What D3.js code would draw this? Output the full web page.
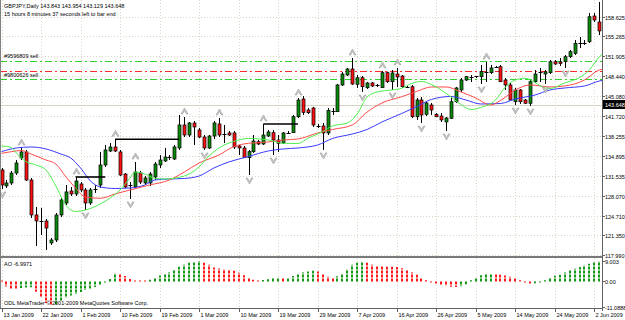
<!DOCTYPE html>
<html>
<head>
<meta charset="utf-8">
<script src="https://cdn.jsdelivr.net/npm/d3@7"></script>
<style>
  html, body { margin: 0; padding: 0; background: #fff; }
  svg { display: block; font-family: "Liberation Sans", Arial, sans-serif; }
</style>
</head>
<body>
<svg id="chart"></svg>
<script>
const titleLine = "GBPJPY,Daily  143.843 143.954 143.129 143.648";
const timerLine = "15 hours 8 minutes 37 seconds left to bar end";
const aoTitle = "AO -6.9971";
const copyright = "ODL MetaTrader \u00a9 2001-2009 MetaQuotes Software Corp.";

// daily bars, 13 Jan 2009 .. 3 Jun 2009 : [open, high, low, close]
const candles = [
  [132.49,132.83,129.25,129.93],[129.76,130.78,129.42,130.27],[130.27,132.32,129.93,131.97],[131.97,134.19,131.63,133.68],
  [134.53,136.24,134.19,135.56],[135.56,135.90,130.61,130.78],[130.78,131.12,124.30,124.82],[124.82,126.18,119.53,123.79],
  [123.79,126.01,121.40,123.62],[123.79,124.13,118.85,122.59],[120.04,120.89,119.70,120.55],[120.55,125.16,120.21,124.82],
  [124.82,127.71,124.47,127.37],[126.86,129.93,126.52,128.74],[128.91,129.59,128.05,128.40],[128.40,131.29,128.05,130.61],
  [130.10,130.44,128.74,129.08],[129.08,129.42,125.67,126.86],[126.86,129.42,126.52,129.08],[129.08,129.93,128.57,129.25],
  [129.93,135.56,129.42,133.34],[133.34,136.75,133.00,135.90],[135.72,137.09,135.56,136.41],[136.41,137.72,135.56,135.72],
  [135.56,135.90,131.46,131.63],[131.80,131.97,129.42,129.59],[129.76,130.44,127.54,129.85],[129.59,133.85,129.42,132.14],
  [131.97,132.32,130.10,130.44],[130.27,131.46,129.93,131.12],[130.27,132.14,129.76,131.80],[131.29,133.85,130.78,133.51],
  [133.34,135.04,132.83,134.19],[134.02,136.24,133.85,134.70],[134.62,135.04,134.19,134.45],[134.36,136.75,134.19,136.41],
  [136.24,141.86,135.90,140.16],[140.16,141.52,138.11,138.45],[138.45,140.67,138.11,140.50],[140.50,140.84,136.75,139.82],
  [139.31,139.65,137.94,138.11],[138.11,138.45,135.90,136.24],[136.24,138.45,136.07,138.28],[138.28,140.84,137.77,140.50],
  [140.33,141.35,138.11,138.45],[138.62,140.16,137.09,138.54],[138.80,139.14,138.28,138.45],[138.80,139.14,136.07,136.41],
  [136.58,136.75,135.04,136.24],[136.24,136.58,134.53,134.58],[134.58,135.90,131.63,135.61],[135.61,138.45,135.39,137.43],
  [137.31,137.60,136.75,136.92],[136.92,140.33,136.75,138.45],[138.28,139.31,138.11,138.97],[138.85,139.31,135.04,137.60],
  [137.60,138.45,135.56,137.04],[137.09,138.97,136.92,138.80],[138.80,139.14,138.62,138.85],[138.85,141.86,138.80,141.57],
  [141.57,144.76,141.35,144.42],[144.59,145.10,141.86,142.32],[142.72,143.06,142.03,142.26],[143.06,143.23,139.82,140.16],
  [139.99,140.33,139.65,139.90],[139.99,140.50,135.90,138.80],[138.80,143.06,138.45,142.63],[142.55,143.06,141.86,142.50],
  [142.43,147.15,142.37,146.98],[146.98,149.20,146.81,148.85],[148.68,149.88,148.51,149.71],[149.71,151.58,146.98,147.15],
  [147.10,148.68,146.47,148.22],[148.22,148.51,145.79,146.69],[146.52,147.49,146.30,147.32],[147.32,147.49,146.64,146.81],
  [146.90,147.15,146.64,146.86],[146.52,149.37,146.47,149.08],[149.08,149.25,147.32,147.54],[147.54,149.54,146.13,149.03],
  [148.85,149.88,146.64,148.34],[148.51,148.68,146.47,146.69],[146.72,146.98,146.47,146.64],[146.69,146.98,141.35,141.57],
  [141.57,144.76,141.02,144.42],[144.42,144.93,140.50,141.86],[141.98,144.25,141.69,143.91],[143.57,143.91,141.86,142.72],
  [141.98,142.20,141.52,141.57],[141.69,142.20,140.67,141.02],[140.67,141.52,139.14,141.35],[141.30,144.93,141.18,144.13],
  [144.13,146.64,143.91,146.47],[146.13,148.17,145.79,147.83],[147.83,148.51,147.66,148.39],[148.34,148.68,147.49,148.39],
  [148.43,148.51,148.17,148.34],[148.39,150.39,147.15,149.25],[149.25,150.90,147.49,149.08],[149.08,150.39,148.85,149.88],
  [150.05,150.22,149.88,150.10],[150.10,150.39,147.49,147.54],[147.83,148.17,146.13,146.98],[146.98,147.32,144.25,144.42],
  [144.13,146.47,143.57,146.13],[146.13,146.30,143.74,144.13],[144.42,144.59,143.74,143.86],[143.86,147.83,143.40,147.54],
  [147.54,149.54,147.32,148.85],[149.03,149.88,147.49,149.20],[148.85,149.54,147.15,149.20],[149.08,151.24,148.85,150.95],
  [150.95,151.24,150.39,150.56],[150.90,151.58,150.22,150.64],[150.95,152.09,149.88,151.80],[151.80,152.95,151.58,152.66],
  [152.38,154.65,152.09,154.09],[154.19,155.16,153.29,154.22],[154.19,154.65,153.80,154.22],[154.36,159.25,154.14,158.62],
  [158.74,159.25,157.72,158.06],[157.72,161.13,155.50,156.19]
];

// Awesome Oscillator, one value per bar
const aoValues = [
  0.22,-2.2,-3.08,-3.3,-2.86,-2.64,-2.55,-4.5,-7.0,-9.5,
  -10.5,-10.0,-8.6,-7.2,-6.2,-5.5,-4.6,-3.74,-3.08,-2.42,
  -1.76,-0.44,1.10,3.65,3.52,2.42,1.10,0.35,0.26,0.20,
  0.73,1.47,2.64,3.20,3.96,5.10,6.45,7.30,8.20,8.80,
  9.00,8.20,7.30,6.15,5.70,5.40,5.27,4.70,3.80,2.77,
  1.47,0.73,0.30,0.60,1.00,1.45,1.76,1.45,1.76,2.40,
  3.20,3.96,4.40,4.70,4.40,3.21,2.07,1.76,2.33,3.52,
  5.41,7.34,8.22,8.48,8.22,7.34,6.75,6.70,6.50,6.45,
  6.40,5.85,4.97,3.96,2.95,1.32,0.57,-0.31,-0.88,-1.45,
  -1.89,-2.33,-2.42,-2.07,-1.19,0.57,1.45,2.77,3.21,3.30,
  3.21,2.95,2.64,2.07,1.45,0.57,-0.31,-0.88,-0.75,-0.31,
  0.57,1.45,2.50,3.00,3.90,4.80,5.60,6.40,7.10,7.80,
  8.40,8.90
];

// Alligator lines, sampled [bar, price]
const jaw = [
  [0,135.61],[3,136.24],[6,136.41],[9,136.07],[12,135.21],[14,134.53],[16,132.83],[18,130.61],[20,129.59],
  [23,129.33],[26,129.42],[29,129.93],[31,130.78],[34,130.95],[37,131.04],[40,131.46],[43,132.83],[46,133.85],
  [50,134.79],[54,135.73],[57,136.07],[60,136.24],[64,136.75],[67,137.86],[71,138.62],[74,139.39],[77,140.67],
  [81,142.12],[84,143.28],[87,144.51],[91,145.02],[94,144.42],[97,143.74],[101,143.82],[104,144.59],[108,145.27],
  [111,146.13],[114,146.47],[118,146.81],[121,147.66],[122,147.83]
];
const teeth = [
  [0,135.33],[2,135.61],[4,135.81],[6,135.21],[9,134.19],[11,133.51],[13,131.34],[15,129.42],[17,127.88],
  [20,127.66],[23,128.40],[26,129.08],[30,129.93],[34,130.78],[37,132.14],[40,133.68],[44,135.04],[47,136.46],
  [50,137.04],[54,137.26],[57,137.60],[60,137.77],[64,138.80],[67,139.39],[71,140.16],[74,142.37],[77,143.91],
  [81,144.98],[84,145.87],[87,146.64],[90,146.64],[93,145.79],[96,144.76],[99,143.57],[101,144.34],[104,146.13],
  [107,146.98],[111,146.64],[114,146.81],[118,147.83],[121,149.54],[122,149.71]
];
const lips = [
  [0,136.58],[2,136.32],[3,135.38],[5,133.90],[7,133.34],[9,132.49],[11,129.76],[13,126.52],[15,125.41],
  [17,125.67],[20,126.69],[22,127.71],[24,129.08],[26,131.12],[27,132.14],[29,131.80],[31,131.07],[33,130.95],
  [37,131.46],[40,133.00],[42,134.87],[44,136.24],[47,137.35],[50,137.86],[54,137.60],[57,137.04],[60,137.00],
  [62,137.89],[65,139.02],[67,139.99],[70,140.50],[72,142.03],[74,144.93],[76,145.79],[79,146.13],[81,146.42],
  [83,147.23],[85,147.57],[87,147.06],[90,145.56],[93,143.65],[95,142.80],[97,143.14],[100,144.42],[102,146.64],
  [104,147.83],[106,148.12],[108,147.41],[110,146.47],[111,146.38],[114,147.32],[117,148.26],[119,149.54],
  [121,151.80],[122,152.43]
];

const fractalUp = [4, 15, 23, 27, 37, 44, 53, 60, 71, 77, 80, 98];
const fractalDown = [0, 17, 26, 41, 50, 55, 65, 73, 79, 85, 90, 97, 104, 107, 110, 114];
const breakLines = [[15, 21], [23, 36], [53, 60]]; // from fractal bar to breakout bar

const orderLabels = ["#9596809 sell", "", "#9800626 sell"];
const orderPrices = [151.07, 149.42, 147.95];
const orderColors = ["#2fd22f", "#ff2a2a", "#2fd22f"];
const bidPrice = 143.648;

const priceTicks = [158.625, 155.265, 151.905, 148.440, 145.080, 141.720, 138.255, 134.895, 131.535, 128.070, 124.710, 121.350, 117.990];
const aoTicks = [9.003, 0, -11.0888];
const aoTickText = ["9.003", "0.00", "-11.0888"];
const dateLabels = ["13 Jan 2009", "22 Jan 2009", "1 Feb 2009", "10 Feb 2009", "19 Feb 2009", "1 Mar 2009", "10 Mar 2009",
  "19 Mar 2009", "29 Mar 2009", "7 Apr 2009", "16 Apr 2009", "26 Apr 2009", "5 May 2009", "14 May 2009", "24 May 2009", "2 Jun 2009"];
const labelEvery = 8;

const W = 625, H = 320;
const plotRight = 602, mainBottom = 256, subTop = 258, subBottom = 308;

const svg = d3.select("#chart").attr("width", W).attr("height", H);
svg.append("rect").attr("width", W).attr("height", H).attr("fill", "#fff");

const x = d3.scaleLinear().domain([0, candles.length - 1]).range([1.5, 599.3]);
const y = d3.scaleLinear().domain([117.82, 161.47]).range([mainBottom, 0]);
const ya = d3.scaleLinear().domain([-11.0888, 9.003]).range([306.7, 261]);
const px = v => Math.round(v) + 0.5;

svg.append("clipPath").attr("id", "mainClip").append("rect").attr("width", plotRight).attr("height", mainBottom);
svg.append("clipPath").attr("id", "subClip").append("rect").attr("y", subTop).attr("width", plotRight).attr("height", subBottom - subTop);

const main = svg.append("g").attr("clip-path", "url(#mainClip)");
const sub = svg.append("g").attr("clip-path", "url(#subClip)");

// grid
const gridColor = "#dcd5c3";
const gridBars = dateLabels.map((d, i) => i * labelEvery);
main.selectAll(".hg").data(priceTicks).join("line")
  .attr("x1", 0).attr("x2", plotRight).attr("y1", d => px(y(d))).attr("y2", d => px(y(d)))
  .attr("stroke", gridColor).attr("stroke-dasharray", "1,2");
main.selectAll(".vg").data(gridBars).join("line")
  .attr("x1", d => px(x(d))).attr("x2", d => px(x(d))).attr("y1", 0).attr("y2", mainBottom)
  .attr("stroke", gridColor).attr("stroke-dasharray", "1,2");
sub.selectAll(".vg").data(gridBars).join("line")
  .attr("x1", d => px(x(d))).attr("x2", d => px(x(d))).attr("y1", subTop).attr("y2", subBottom)
  .attr("stroke", gridColor).attr("stroke-dasharray", "1,2");

// bid line
main.append("line").attr("x1", 0).attr("x2", plotRight)
  .attr("y1", px(y(bidPrice))).attr("y2", px(y(bidPrice)))
  .attr("stroke", "#d8d2c0");

// order lines
orderPrices.forEach((p, i) => {
  main.append("line").attr("x1", 0).attr("x2", plotRight)
    .attr("y1", px(y(p))).attr("y2", px(y(p)))
    .attr("stroke", orderColors[i]).attr("stroke-width", 1.2)
    .attr("shape-rendering", "crispEdges").attr("stroke-dasharray", "7,3,2,3");
  if (orderLabels[i]) {
    main.append("text").attr("x", 4).attr("y", y(p) - 2.5)
      .attr("font-size", 5.5).attr("fill", "#000").text(orderLabels[i]);
  }
});

// candles
const bodyW = 3;
const cg = main.append("g");
candles.forEach((d, i) => {
  const [o, h, l, c] = d;
  const cx = px(x(i));
  cg.append("line").attr("x1", cx).attr("x2", cx).attr("y1", y(h)).attr("y2", y(l)).attr("stroke", "#000");
  const top = y(Math.max(o, c)), bot = y(Math.min(o, c));
  if (bot - top < 1.2) {
    cg.append("line").attr("x1", cx - 2).attr("x2", cx + 2)
      .attr("y1", px(top)).attr("y2", px(top)).attr("stroke", "#000");
  } else {
    cg.append("rect").attr("x", cx - bodyW / 2).attr("width", bodyW)
      .attr("y", top).attr("height", bot - top)
      .attr("fill", c >= o ? "#0a8a0a" : "#ff1010")
      .attr("stroke", "#000").attr("stroke-width", 0.7);
  }
});

// alligator
const line = d3.line().x(d => x(d[0])).y(d => y(d[1])).curve(d3.curveMonotoneX);
[[jaw, "#3a3aff"], [teeth, "#ff4a4a"], [lips, "#4ef04e"]].forEach(([s, col]) => {
  main.append("path").datum(s).attr("d", line).attr("fill", "none").attr("stroke", col).attr("stroke-width", 1);
});

// breakout lines
breakLines.forEach(([a, b]) => {
  const yy = y(candles[a][1]);
  main.append("line").attr("x1", x(a)).attr("x2", x(b)).attr("y1", yy).attr("y2", yy)
    .attr("stroke", "#000").attr("stroke-width", 1.6);
});

// fractals
const upPath = "M-3.5,3 L0,-3 L3.5,3 L2,3 L0,-0.5 L-2,3 Z";
const downPath = "M-3.5,-3 L0,3 L3.5,-3 L2,-3 L0,0.5 L-2,-3 Z";
main.selectAll(".fu").data(fractalUp).join("path")
  .attr("transform", i => `translate(${px(x(i))},${y(candles[i][1]) - 6})`)
  .attr("d", upPath).attr("fill", "#cfcfcf").attr("stroke", "#999").attr("stroke-width", 0.6);
main.selectAll(".fd").data(fractalDown).join("path")
  .attr("transform", i => `translate(${px(x(i))},${y(candles[i][2]) + 6})`)
  .attr("d", downPath).attr("fill", "#cfcfcf").attr("stroke", "#999").attr("stroke-width", 0.6);

// AO histogram
sub.selectAll(".ao").data(aoValues).join("line")
  .attr("x1", (d, i) => Math.round(x(i))).attr("x2", (d, i) => Math.round(x(i)))
  .attr("y1", ya(0)).attr("y2", d => Math.abs(ya(d) - ya(0)) < 1 ? ya(0) + (d < 0 ? 1 : -1) : ya(d))
  .attr("stroke-width", 2).attr("stroke-dasharray", "3,1")
  .attr("stroke", (d, i) => (i > 0 && d > aoValues[i - 1]) ? "#159a15" : "#ff1a1a");

// frame
svg.append("line").attr("x1", 0.5).attr("x2", 0.5).attr("y1", 0).attr("y2", subBottom).attr("stroke", "#808080");
svg.append("line").attr("x1", 0).attr("x2", plotRight).attr("y1", 257).attr("y2", 257).attr("stroke", "#7a7a7a").attr("stroke-width", 2);
svg.append("line").attr("x1", plotRight + 0.5).attr("x2", plotRight + 0.5).attr("y1", 0).attr("y2", subBottom + 3).attr("stroke", "#606060");
svg.append("line").attr("x1", 0).attr("x2", plotRight).attr("y1", subBottom + 0.5).attr("y2", subBottom + 0.5).attr("stroke", "#606060");

// texts
const fs = 5.5;
svg.append("text").attr("x", 4).attr("y", 8).attr("font-size", fs).text(titleLine);
svg.append("text").attr("x", 4).attr("y", 15.5).attr("font-size", fs).text(timerLine);
svg.append("text").attr("x", 4).attr("y", 266).attr("font-size", fs).text(aoTitle);
svg.append("text").attr("x", 4).attr("y", 305).attr("font-size", fs).text(copyright);

// price axis
const pa = svg.append("g");
priceTicks.forEach(p => {
  const yy = px(y(p));
  pa.append("line").attr("x1", plotRight).attr("x2", plotRight + 3).attr("y1", yy).attr("y2", yy).attr("stroke", "#606060");
  pa.append("text").attr("x", 605).attr("y", yy + 2).attr("font-size", fs).text(p.toFixed(3));
});
const by = y(bidPrice);
pa.append("rect").attr("x", plotRight + 1).attr("y", by - 4.5).attr("width", W - plotRight).attr("height", 9).attr("fill", "#000");
pa.append("text").attr("x", 605).attr("y", by + 2).attr("font-size", fs).attr("fill", "#fff").text(bidPrice.toFixed(3));

aoTicks.forEach((v, i) => {
  const yy = px(ya(v));
  pa.append("line").attr("x1", plotRight).attr("x2", plotRight + 3).attr("y1", yy).attr("y2", yy).attr("stroke", "#606060");
  pa.append("text").attr("x", 605).attr("y", yy + 2).attr("font-size", fs).text(aoTickText[i]);
});

// time axis
dateLabels.forEach((t, k) => {
  const xx = px(x(k * labelEvery));
  svg.append("line").attr("x1", xx).attr("x2", xx).attr("y1", subBottom).attr("y2", subBottom + 4).attr("stroke", "#606060");
  svg.append("text").attr("x", xx + 1).attr("y", 317).attr("font-size", fs).text(t);
});
</script>
</body>
</html>
